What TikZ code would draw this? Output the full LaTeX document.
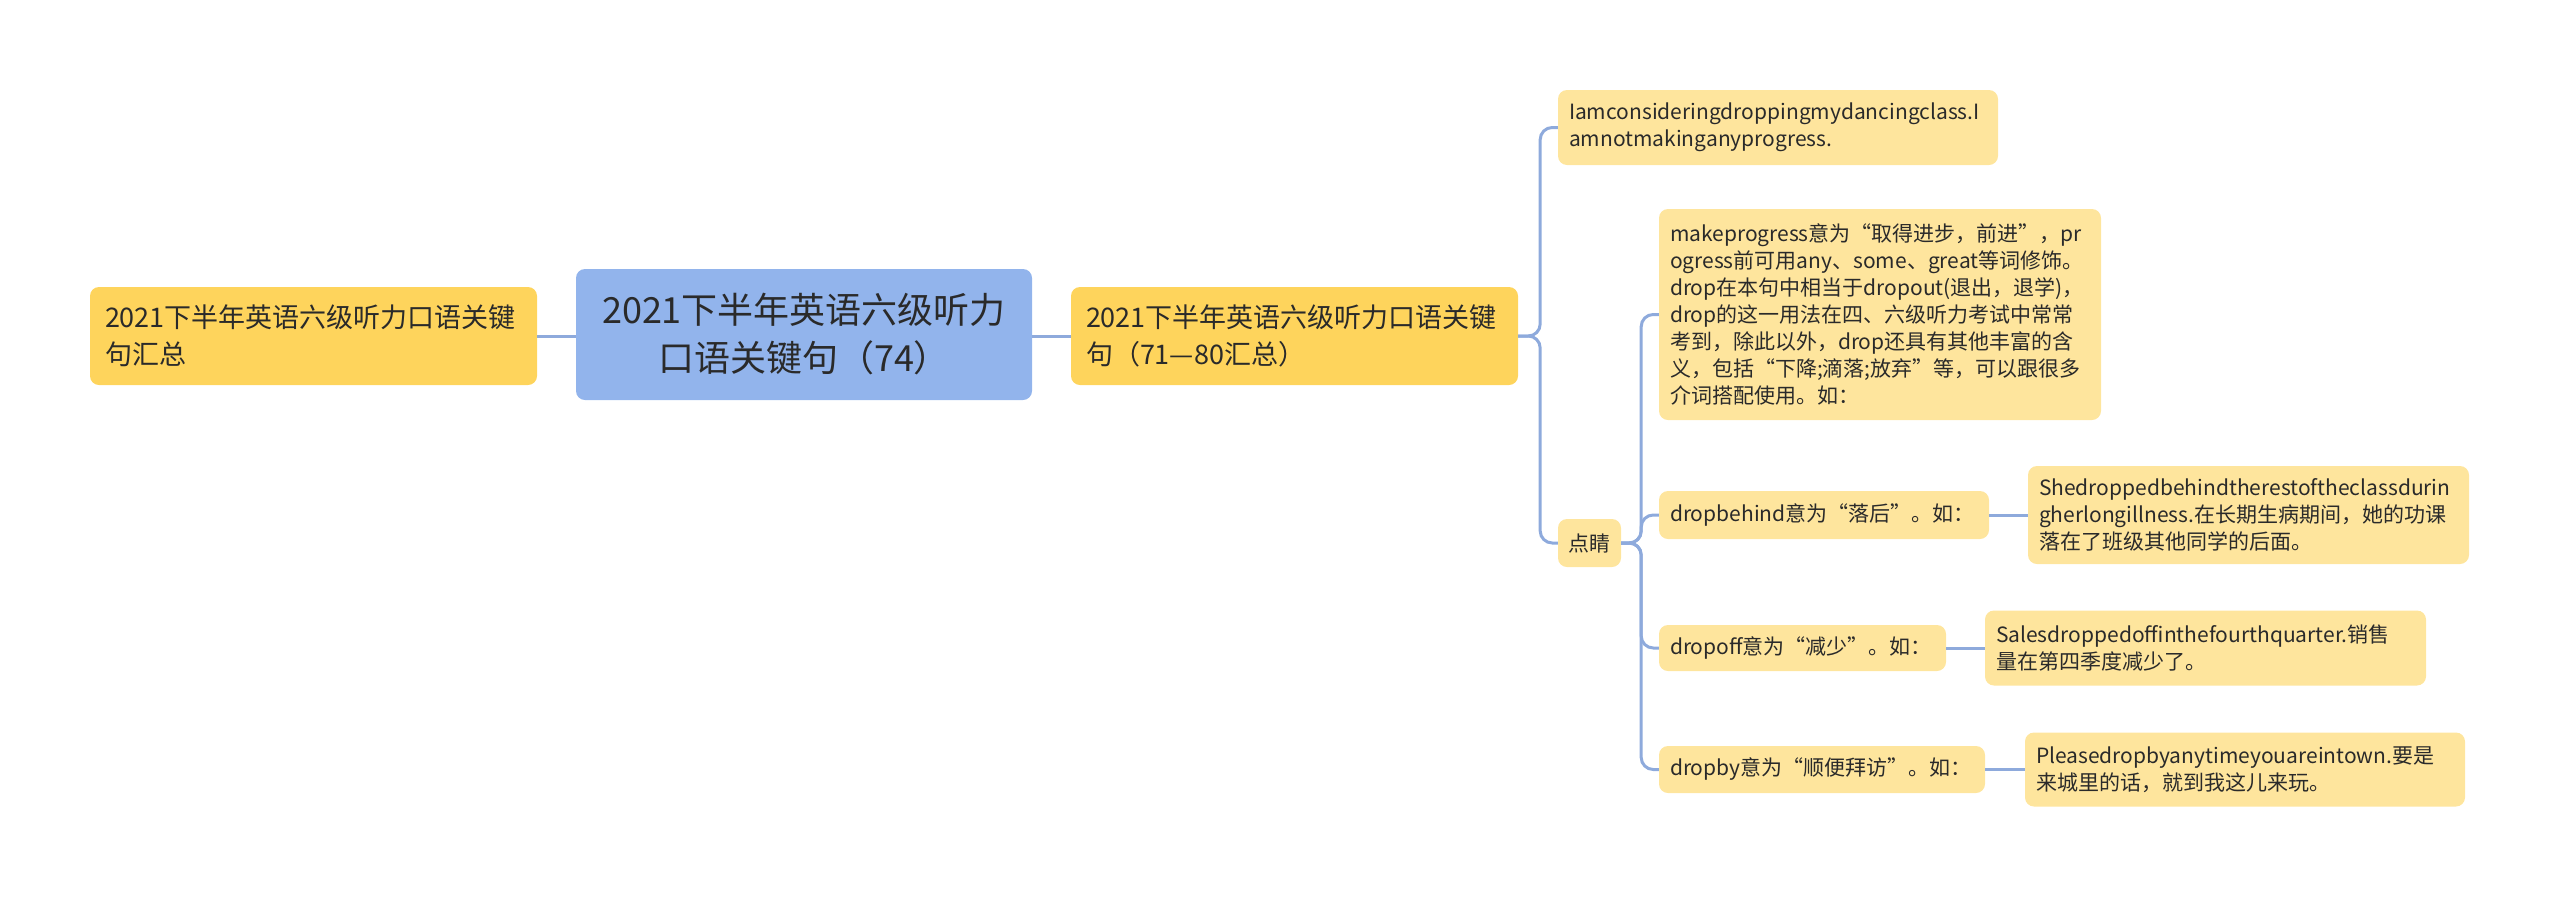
\documentclass[tikz,border=0pt]{standalone}
\usepackage{fontspec}
\setmainfont{Noto Sans CJK SC}
\definecolor{rootc}{HTML}{92B4EC}
\definecolor{mainc}{HTML}{FED45C}
\definecolor{leafc}{HTML}{FEE59D}
\definecolor{linec}{HTML}{8EAADC}
\definecolor{txtc}{HTML}{2A2A2A}
\begin{document}
\begin{tikzpicture}[x=1pt,y=-1pt,
  base/.style={rounded corners=9pt, text=txtc, inner ysep=0pt},
  rootn/.style={base, fill=rootc, minimum width=456pt, minimum height=131pt, align=center, font=\fontsize{36}{48}\selectfont},
  mainn/.style={base, fill=mainc, inner xsep=15pt, text width=417pt, minimum height=98pt, align=left, font=\fontsize{27}{37}\selectfont},
  leaf/.style={base, fill=leafc, inner xsep=11pt, align=left, font=\fontsize{21}{27}\selectfont},
  conn/.style={draw=linec, line width=3pt, rounded corners=12pt}
]
\useasboundingbox (0,0) rectangle (2560,898);

\node[mainn] (left) at (313.5,336) {2021下半年英语六级听力口语关键\\句汇总};
\node[rootn] (root) at (804,334.5) {2021下半年英语六级听力\\口语关键句（74）};
\node[mainn] (main) at (1294.5,336) {2021下半年英语六级听力口语关键\\句（71—80汇总）};

\node[leaf, text width=418pt, minimum height=75pt] (iam) at (1778,127.5) {Iamconsideringdroppingmydancingclass.I\\amnotmakinganyprogress.};
\node[leaf, inner xsep=0pt, minimum width=63pt, minimum height=48pt, align=center] (dj) at (1589.5,543) {点睛};

\node[leaf, text width=420pt, minimum height=211pt] (mp) at (1880,314.5) {makeprogress意为“取得进步，前进”，pr\\ogress前可用any、some、great等词修饰。\\drop在本句中相当于dropout(退出，退学)，\\drop的这一用法在四、六级听力考试中常常\\考到，除此以外，drop还具有其他丰富的含\\义，包括“下降;滴落;放弃”等，可以跟很多\\介词搭配使用。如：};

\node[leaf, text width=308pt, minimum height=48pt] (db) at (1824,515) {dropbehind意为“落后”。如：};
\node[leaf, text width=419pt, minimum height=98pt] (she) at (2248.5,515) {Shedroppedbehindtherestoftheclassdurin\\gherlongillness.在长期生病期间，她的功课\\落在了班级其他同学的后面。};

\node[leaf, text width=265pt, minimum height=46pt] (dof) at (1802.5,648) {dropoff意为“减少”。如：};
\node[leaf, text width=419pt, minimum height=75pt] (sales) at (2205.5,648) {Salesdroppedoffinthefourthquarter.销售\\量在第四季度减少了。};

\node[leaf, text width=304pt, minimum height=47pt] (dby) at (1822,769.5) {dropby意为“顺便拜访”。如：};
\node[leaf, text width=418pt, minimum height=74pt] (please) at (2245,769.5) {Pleasedropbyanytimeyouareintown.要是\\来城里的话，就到我这儿来玩。};

\draw[conn] (left.east) -- (root.west |- left.east);
\draw[conn] (root.east |- main.west) -- (main.west);
\draw[conn] (main.east) -- ++(22,0) |- (iam.west);
\draw[conn] (main.east) -- ++(22,0) |- (dj.west);
\draw[conn] (dj.east) -- ++(20,0) |- (mp.west);
\draw[conn] (dj.east) -- ++(20,0) |- (db.west);
\draw[conn] (dj.east) -- ++(20,0) |- (dof.west);
\draw[conn] (dj.east) -- ++(20,0) |- (dby.west);
\draw[conn] (db.east) -- (she.west);
\draw[conn] (dof.east) -- (sales.west);
\draw[conn] (dby.east) -- (please.west);
\end{tikzpicture}
\end{document}
